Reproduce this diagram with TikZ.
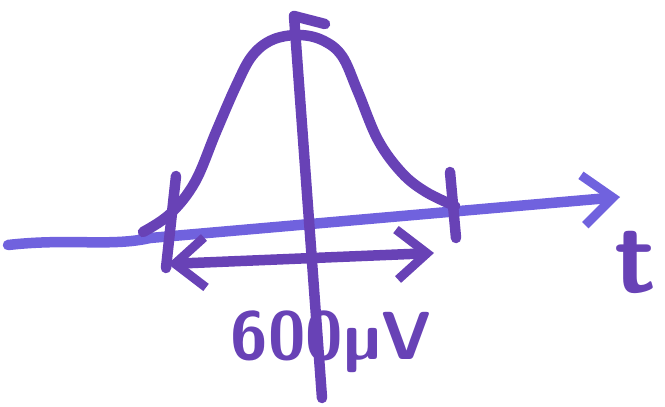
\documentclass[tikz,border=0pt]{standalone}
\usepackage{fontspec}
\usepackage{tikz}
\usetikzlibrary{arrows.meta}
\definecolor{pen}{RGB}{104,66,182}
\definecolor{penlight}{RGB}{112,98,222}

\begin{document}
\begin{tikzpicture}[x=1pt,y=-1pt,
  marker/.style={draw=pen, line width=10.5pt, line cap=round, line join=round},
  barb/.tip={Straight Barb[length=30pt,width=50pt,line width=9pt]},
  label/.style={text=pen, inner sep=0pt}]
  \useasboundingbox (0,0) rectangle (665,407);

  % time axis, arrow to the right
  \coordinate (tstart) at (8,245);
  \coordinate (tbend) at (150,238);
  \coordinate (tend) at (620,197);
  \draw[marker, draw=penlight, -barb] (tstart) .. controls (70,238) and (110,247) .. (tbend) -- (tend);
  \node[label] (tlabel) at (636,262) {\fontsize{104}{104}\selectfont\sffamily\bfseries t};

  % vertical axis through the peak
  \coordinate (vbot) at (322,398);
  \coordinate (vtop) at (294,16);
  \coordinate (vflag) at (325,24);
  \draw[marker] (vbot) -- (vtop) -- (vflag);

  % bell curve
  \draw[marker] plot[smooth, tension=0.6] coordinates {
    (143,232) (170,214) (195,182) (216,132) (236,86) (252,56) (272,40)
    (298,35) (322,40) (342,56) (358,92) (378,140) (402,173) (426,192) (455,206)};

  % width markers on the axis
  \coordinate (lta) at (176,176);
  \coordinate (ltb) at (166,268);
  \coordinate (rta) at (450,172);
  \coordinate (rtb) at (456,238);
  \draw[marker] (lta) -- (ltb);
  \draw[marker] (rta) -- (rtb);

  % width arrow and its value
  \coordinate (wl) at (168,264);
  \coordinate (wr) at (434,253);
  \draw[marker, barb-barb] (wl) -- (wr);
  \node[label] (wlabel) at (331,342) {\fontsize{68}{68}\selectfont\sffamily\bfseries 600µV};
\end{tikzpicture}
\end{document}
